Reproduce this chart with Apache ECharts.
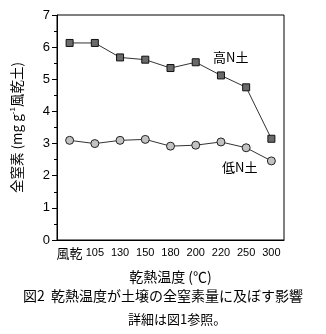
<!DOCTYPE html>
<html><head><meta charset="utf-8">
<script src="https://cdn.jsdelivr.net/npm/echarts@6/dist/echarts.min.js"></script>
<style>html,body{margin:0;padding:0;background:#fff}#c{width:326px;height:334px}</style>
</head><body><div id="c"></div>
<script>
const categories = ['風乾','105','130','150','180','200','220','250','300'];
const highN = [6.13, 6.13, 5.68, 5.61, 5.35, 5.53, 5.12, 4.75, 3.15];
const lowN = [3.10, 3.00, 3.10, 3.13, 2.92, 2.95, 3.05, 2.87, 2.46];
const yTicks = [0,1,2,3,4,5,6,7];
const CJK = '"Noto Sans CJK JP", sans-serif';
const LAT = '"Liberation Sans", Arial, sans-serif';
const chart = echarts.init(document.getElementById('c'));
chart.setOption({
  animation: false,
  backgroundColor: '#fff',
  grid: {left: 57, top: 15, right: 42, bottom: 94, show: true, borderColor: '#000', borderWidth: 1},
  xAxis: {
    type: 'category', data: categories, boundaryGap: true,
    axisLine: {lineStyle: {color: '#000', width: 1}},
    axisTick: {alignWithLabel: true, length: 4, lineStyle: {color: '#000'}},
    axisLabel: {
      color: '#000', fontSize: 11, fontFamily: LAT, margin: 7, interval: 0,
      formatter: v => isNaN(+v) ? '{c|' + v + '}' : v,
      rich: {c: {fontFamily: CJK, fontSize: 13, color: '#000'}}
    },
    name: '乾熱温度 (℃)', nameLocation: 'middle', nameGap: 30,
    nameTextStyle: {fontFamily: CJK, fontSize: 14, color: '#000'}
  },
  yAxis: {
    type: 'value', min: yTicks[0], max: yTicks[yTicks.length-1], interval: 1,
    axisLine: {show: true, lineStyle: {color: '#000', width: 1}},
    axisTick: {show: true, length: 5, lineStyle: {color: '#000'}},
    minorTick: {show: true, splitNumber: 2, length: 3, lineStyle: {color: '#000'}},
    splitLine: {show: false},
    axisLabel: {color: '#000', fontSize: 13, fontFamily: LAT, margin: 7},
    name: '{a|全窒素 (mg g}{s|-1}{a|風乾土)}', nameLocation: 'middle', nameGap: 32, nameRotate: 90,
    nameTextStyle: {
      rich: {
        a: {fontFamily: CJK, fontSize: 13.5, color: '#000', lineHeight: 16},
        s: {fontFamily: LAT, fontSize: 8, color: '#000', verticalAlign: 'top', lineHeight: 16, padding: [0,0,6,0]}
      }
    }
  },
  series: [
    {type: 'line', data: highN, symbol: 'rect', symbolSize: 7,
     lineStyle: {color: '#333', width: 1},
     itemStyle: {color: '#6a6a6a', borderColor: '#111', borderWidth: 1}},
    {type: 'line', data: lowN, symbol: 'circle', symbolSize: 8,
     lineStyle: {color: '#333', width: 1},
     itemStyle: {color: '#c2c2c2', borderColor: '#222', borderWidth: 1}}
  ],
  graphic: [
    {type: 'text', left: 213, top: 51, style: {text: '高N土', font: '13px ' + CJK, fill: '#000'}},
    {type: 'text', left: 222, top: 161, style: {text: '低N土', font: '13px ' + CJK, fill: '#000'}},
    {type: 'text', left: 'center', top: 289, style: {text: '図2  乾熱温度が土壌の全窒素量に及ぼす影響', font: '14px ' + CJK, fill: '#000'}},
    {type: 'text', left: 128, top: 313, style: {text: '詳細は図1参照。', font: '13px ' + CJK, fill: '#000'}}
  ]
});
</script></body></html>
